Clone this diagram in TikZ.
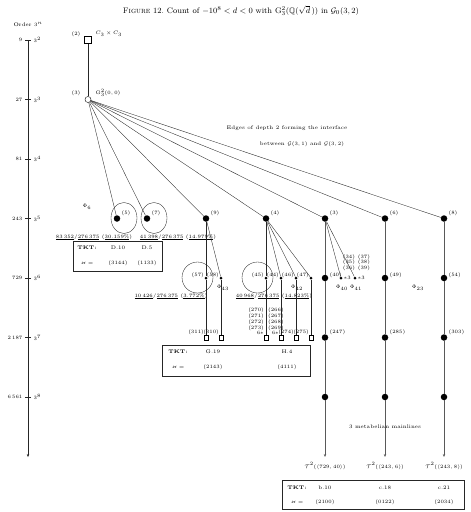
\documentclass[tikz,border=0pt]{standalone}
\usepackage{amsmath,amssymb}
\usetikzlibrary{arrows.meta}
\begin{document}
\begin{tikzpicture}[x=1pt,y=-1pt,
  lab/.style={font=\fontsize{5.2}{6}\selectfont,inner sep=0.4pt},
  bigdot/.style={circle,fill=black,minimum size=6.5pt,inner sep=0pt},
  smalldot/.style={circle,fill=black,minimum size=3pt,inner sep=0pt},
  leaf/.style={rectangle,draw,fill=white,minimum size=4.5pt,inner sep=0pt,line width=0.35pt},
  edge/.style={line width=0.35pt,black!85},
  mainl/.style={line width=0.8pt,black!65},
  arr/.style={-{Stealth[length=3pt,width=2.4pt]}},
]
\useasboundingbox (0,0) rectangle (471,512);
% title
\node[font=\fontsize{8}{10}\selectfont,inner sep=0pt] (title) at (241,10.5)
  {\textsc{Figure} 12.\ Count of $-10^8<d<0$ with $\mathrm{G}_3^2(\mathbb{Q}(\sqrt{d}\,))$ in $\mathcal{G}_0(3,2)$};
% axis
\node[lab] (ord) at (28,24) {Order $3^n$};
\coordinate (ax0) at (28,40);
\coordinate (ax1) at (28,457);
\draw[edge,arr] (ax0) -- (ax1);
\foreach \n/\y/\v in {2/40/9, 3/99.5/27, 4/159/81, 5/218.5/243, 6/278/729, 7/337.5/{2\,187}, 8/397/{6\,561}} {
  \draw[edge] (25,\y) -- (31,\y);
  \node[lab,anchor=east] (ol\n) at (23,\y) {$\v$};
  \node[lab,anchor=west] (or\n) at (33,\y) {$3^{\n}$};
}
% top
\node[leaf,minimum size=7pt] (n2) at (88,40) {};
\node[lab,anchor=east] (l2) at (81,34) {$(2)$};
\node[lab,anchor=west] (t2) at (95,34) {$C_3\times C_3$};
\node[circle,draw,fill=white,minimum size=6pt,inner sep=0pt] (r3) at (88,99.5) {};
\node[lab,anchor=east] (l3) at (81,93) {$(3)$};
\node[lab,anchor=west] (t3) at (95,93) {$\mathrm{G}^2_3(0,0)$};
\draw[edge] (n2) -- (r3);
% interface text
\node[lab] (if1) at (287,128) {Edges of depth 2 forming the interface};
\node[lab] (if2) at (302,144) {between $\mathcal{G}(3,1)$ and $\mathcal{G}(3,2)$};
% level 5
\node[bigdot] (a5) at (117,218.5) {};
\node[bigdot] (a7) at (147,218.5) {};
\node[bigdot] (a9) at (206,218.5) {};
\node[bigdot] (a4) at (266,218.5) {};
\node[bigdot] (a3) at (325,218.5) {};
\node[bigdot] (a6) at (385,218.5) {};
\node[bigdot] (a8) at (444,218.5) {};
\foreach \t/\x in {5/117,7/147,9/206,4/266,3/325,6/385,8/444}
  \node[lab,anchor=west] (la\t) at (\x+4,213) {$(\t)$};
\foreach \t in {a5,a7,a9,a4,a3,a6,a8} \draw[edge] (r3) -- (\t);
\draw[edge] (124,218) ellipse [x radius=13, y radius=15.5];
\draw[edge] (154,218) ellipse [x radius=13, y radius=15.5];
\node[lab] (phi6) at (87,207) {$\Phi_6$};
\node[lab] (cnt1) at (94,237) {$\underline{83\,352}/\underline{276\,375}$ $(\underline{30.159\%})$};
\node[lab] (cnt2) at (178,237) {$\underline{41\,398}/\underline{276\,375}$ $(\underline{14.979\%})$};
% box 1
\draw[edge] (73,241) rectangle (162,271);
\node[lab] (k1a) at (87,248) {\textbf{TKT:}};
\node[lab] (k1b) at (118,248) {D.10};
\node[lab] (k1c) at (147,248) {D.5};
\node[lab] (k1d) at (87,263) {$\varkappa=$};
\node[lab] (k1e) at (118,263) {$(3144)$};
\node[lab] (k1f) at (147,263) {$(1133)$};
% level 6
\node[smalldot] (b57) at (206,278) {};
\node[smalldot] (b58) at (221,278) {};
\node[smalldot] (b45) at (266,278) {};
\node[smalldot] (b44) at (281,278) {};
\node[smalldot] (b46) at (296,278) {};
\node[smalldot] (b47) at (311,278) {};
\node[bigdot] (b40) at (325,278) {};
\node[smalldot] (b41) at (341,278) {};
\node[smalldot] (b42) at (355,278) {};
\node[bigdot] (b49) at (385,278) {};
\node[bigdot] (b54) at (444,278) {};
\draw[edge] (197.5,277.5) circle (15.5);
\draw[edge] (257.5,277.5) circle (15.5);
\node[lab,anchor=east] (lb57) at (204.5,275) {$(57)$};
\node[lab,anchor=east] (lb58) at (219.5,275) {$(58)$};
\node[lab,anchor=east] (lb45) at (264.5,275) {$(45)$};
\node[lab,anchor=east] (lb44) at (279.5,275) {$(44)$};
\node[lab,anchor=east] (lb46) at (294.5,275) {$(46)$};
\node[lab,anchor=east] (lb47) at (309.5,275) {$(47)$};
\node[lab,anchor=west] (lb40) at (329,275) {$(40)$};
\node[lab,anchor=west] (m41) at (343,278) {$\ast 3$};
\node[lab,anchor=west] (m42) at (357,278) {$\ast 3$};
\node[lab,anchor=west] (lb49) at (389,275) {$(49)$};
\node[lab,anchor=west] (lb54) at (448,275) {$(54)$};
\node[lab] (s34) at (349,257) {$(34)$};
\node[lab] (s35) at (349,262.5) {$(35)$};
\node[lab] (s36) at (349,268) {$(36)$};
\node[lab] (s37) at (364,257) {$(37)$};
\node[lab] (s38) at (364,262.5) {$(38)$};
\node[lab] (s39) at (364,268) {$(39)$};
\node[lab] (phi43) at (223,288) {$\Phi_{43}$};
\node[lab] (phi42) at (297,288) {$\Phi_{42}$};
\node[lab] (phi40) at (342,288) {$\Phi_{40}$};
\node[lab] (phi41) at (356,288) {$\Phi_{41}$};
\node[lab] (phi23) at (418,288) {$\Phi_{23}$};
\node[lab] (cnt3) at (171,296) {$\underline{10\,426}/\underline{276\,375}$ $(\underline{3.772\%})$};
\node[lab] (cnt4) at (274,296) {$\underline{40\,968}/\underline{276\,375}$ $(\underline{14.823\%})$};
\draw[edge] (a9) -- (b57);
\draw[edge] (a9) -- (b58);
\draw[edge] (a4) -- (b45);
\draw[edge] (a4) -- (b44);
\draw[edge] (a4) -- (b46);
\draw[edge] (a4) -- (b47);
\draw[mainl] (a3) -- (b40);
\draw[edge] (a3) -- (b41);
\draw[edge] (a3) -- (b42);
\draw[mainl] (a6) -- (b49);
\draw[mainl] (a8) -- (b54);
% level 7
\node[leaf] (s311) at (206,337.5) {};
\node[leaf] (s310) at (221,337.5) {};
\node[leaf] (s270) at (266,337.5) {};
\node[leaf] (s266) at (281,337.5) {};
\node[leaf] (s274) at (296,337.5) {};
\node[leaf] (s275) at (311,337.5) {};
\node[bigdot] (c247) at (325,337.5) {};
\node[bigdot] (c285) at (385,337.5) {};
\node[bigdot] (c303) at (444,337.5) {};
\draw[edge] (b57) -- (s311);
\draw[edge] (b58) -- (s310);
\draw[edge] (b45) -- (s270);
\draw[edge] (b44) -- (s266);
\draw[edge] (b46) -- (s274);
\draw[edge] (b47) -- (s275);
\node[lab,anchor=east] (ls311) at (204.5,332) {$(311)$};
\node[lab,anchor=east] (ls310) at (219.5,332) {$(310)$};
\node[lab,anchor=east] (ls274) at (294.5,332) {$(274)$};
\node[lab,anchor=east] (ls275) at (309.5,332) {$(275)$};
\node[lab,anchor=east] (x6a) at (264.5,333) {$6\ast$};
\node[lab,anchor=east] (x6b) at (279.5,333) {$6\ast$};
\node[lab,anchor=east] (q270) at (264.5,310) {$(270)$};
\node[lab,anchor=east] (q271) at (264.5,316) {$(271)$};
\node[lab,anchor=east] (q272) at (264.5,322) {$(272)$};
\node[lab,anchor=east] (q273) at (264.5,328) {$(273)$};
\node[lab,anchor=west] (q266) at (267.5,310) {$(266)$};
\node[lab,anchor=west] (q267) at (267.5,316) {$(267)$};
\node[lab,anchor=west] (q268) at (267.5,322) {$(268)$};
\node[lab,anchor=west] (q269) at (267.5,328) {$(269)$};
\node[lab,anchor=west] (lc247) at (329,332) {$(247)$};
\node[lab,anchor=west] (lc285) at (389,332) {$(285)$};
\node[lab,anchor=west] (lc303) at (448,332) {$(303)$};
% box 2
\draw[edge] (162,345) rectangle (310,376);
\node[lab] (k2a) at (178,352) {\textbf{TKT:}};
\node[lab] (k2b) at (213,352) {G.19};
\node[lab] (k2c) at (287,352) {H.4};
\node[lab] (k2d) at (178,367) {$\varkappa=$};
\node[lab] (k2e) at (213,367) {$(2143)$};
\node[lab] (k2f) at (287,367) {$(4111)$};
% level 8 and mainlines
\node[bigdot] (d3) at (325,397) {};
\node[bigdot] (d6) at (385,397) {};
\node[bigdot] (d8) at (444,397) {};
\coordinate (e3) at (325,457);
\coordinate (e6) at (385,457);
\coordinate (e8) at (444,457);
\draw[mainl] (b40) -- (c247) -- (d3);
\draw[mainl] (b49) -- (c285) -- (d6);
\draw[mainl] (b54) -- (c303) -- (d8);
\draw[mainl,arr] (d3) -- (e3);
\draw[mainl,arr] (d6) -- (e6);
\draw[mainl,arr] (d8) -- (e8);
\node[lab] (mm) at (385,427) {3 metabelian mainlines};
\node[lab] (tr3) at (325,466) {$\mathcal{T}^2(\langle 729,40\rangle)$};
\node[lab] (tr6) at (385,466) {$\mathcal{T}^2(\langle 243,6\rangle)$};
\node[lab] (tr8) at (444,466) {$\mathcal{T}^2(\langle 243,8\rangle)$};
% box 3
\draw[edge] (282,480) rectangle (464,509);
\node[lab] (k3a) at (297,488) {\textbf{TKT:}};
\node[lab] (k3b) at (325,488) {b.10};
\node[lab] (k3c) at (385,488) {c.18};
\node[lab] (k3d) at (444,488) {c.21};
\node[lab] (k3e) at (297,502) {$\varkappa=$};
\node[lab] (k3f) at (325,502) {$(2100)$};
\node[lab] (k3g) at (385,502) {$(0122)$};
\node[lab] (k3h) at (444,502) {$(2034)$};
\end{tikzpicture}
\end{document}
